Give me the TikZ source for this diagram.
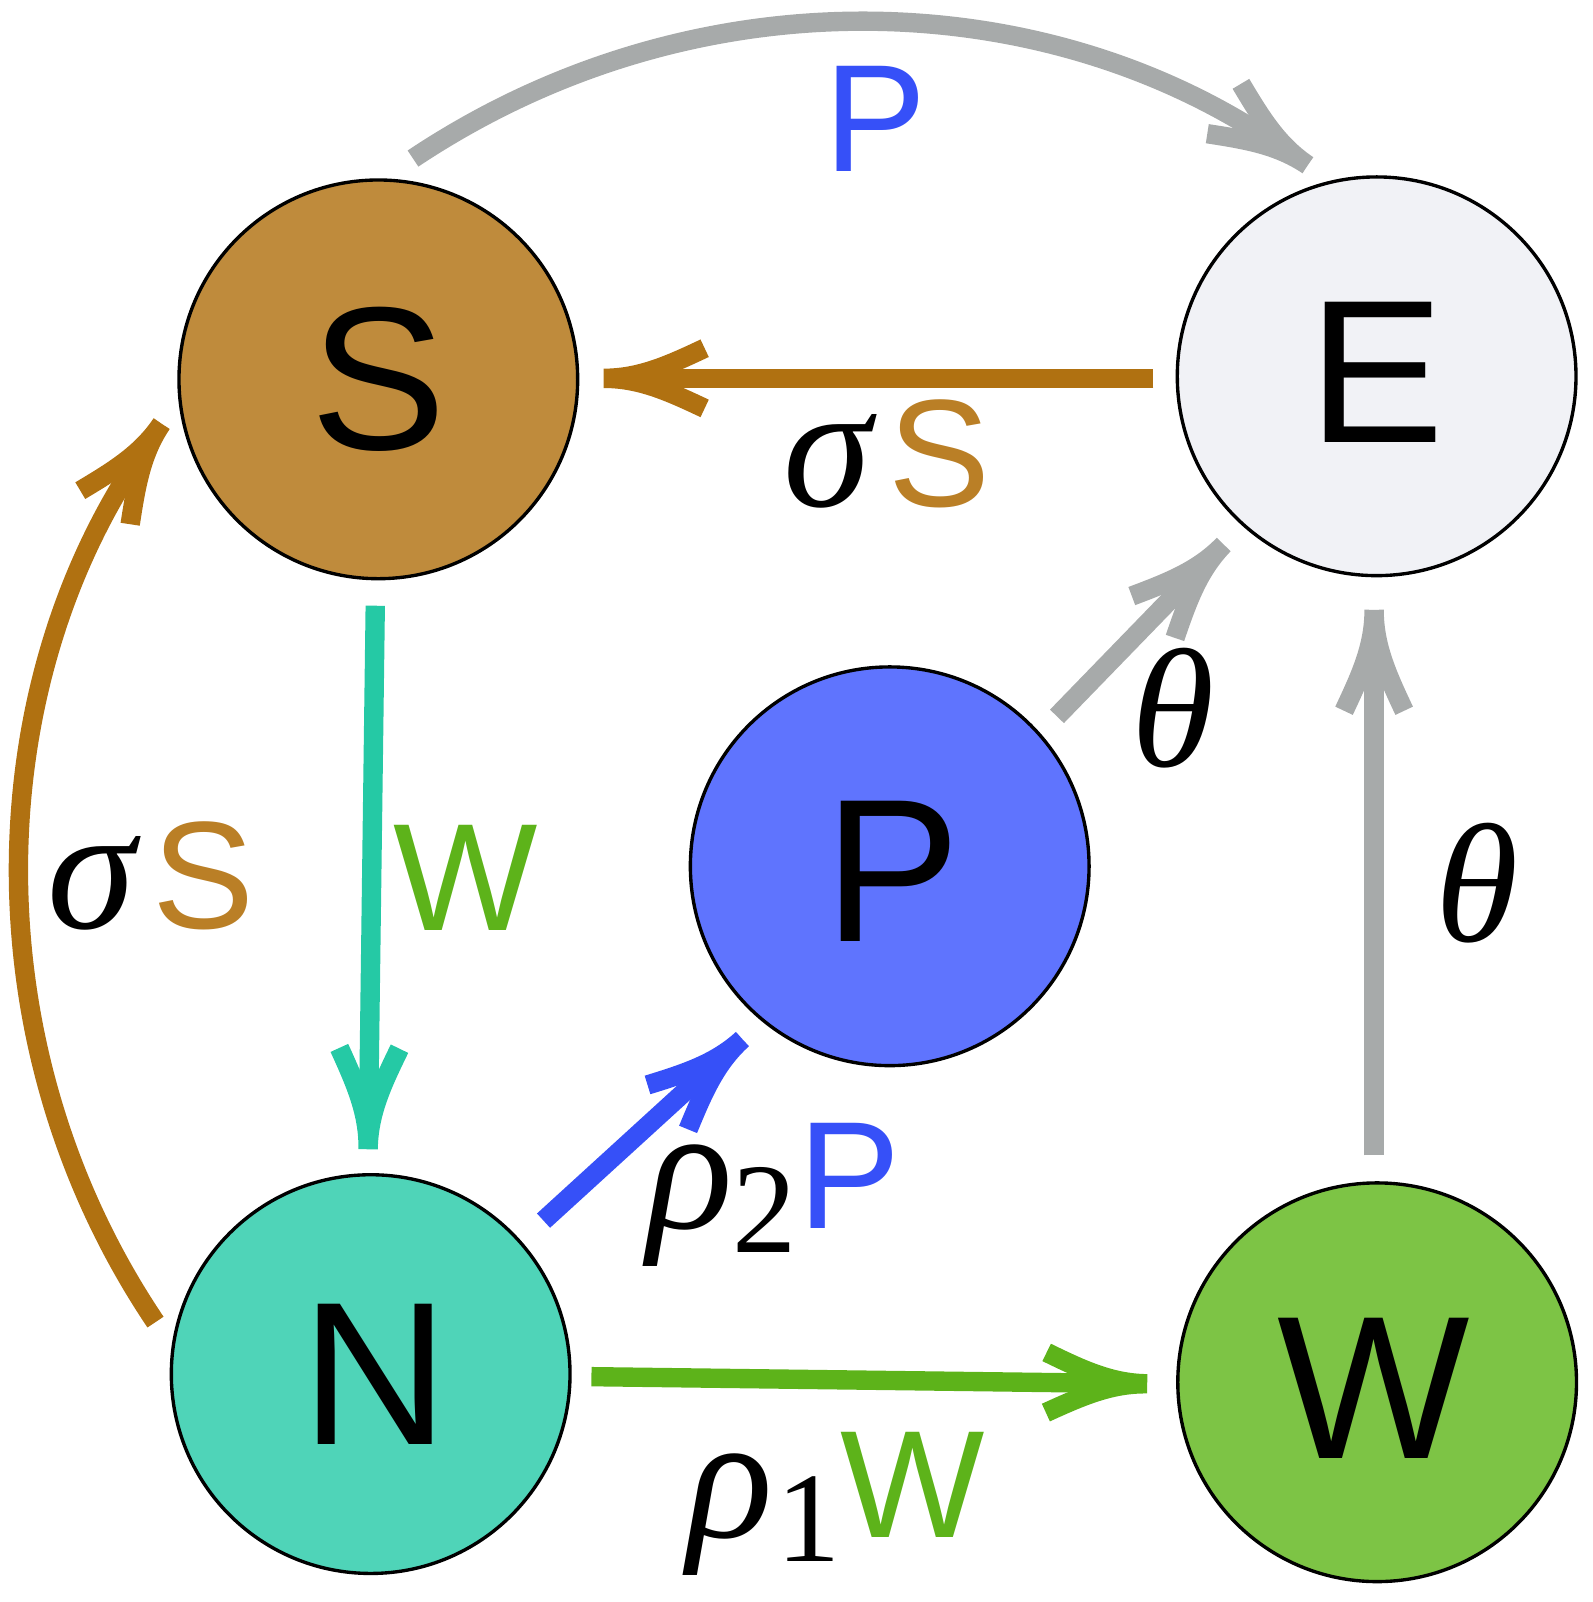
\documentclass[tikz,border=0pt]{standalone}
\usepackage{fontspec}
\setmainfont{Liberation Sans}
\newfontfamily\gkfont{Liberation Serif}
\usetikzlibrary{arrows.meta}
\definecolor{cS}{RGB}{191,139,60}
\definecolor{cE}{RGB}{241,242,246}
\definecolor{cP}{RGB}{95,116,254}
\definecolor{cN}{RGB}{79,212,184}
\definecolor{cW}{RGB}{125,196,69}
\definecolor{cBrown}{RGB}{176,113,17}
\definecolor{cBrownT}{RGB}{186,127,38}
\definecolor{cGray}{RGB}{167,170,170}
\definecolor{cTeal}{RGB}{37,201,165}
\definecolor{cGreen}{RGB}{93,179,26}
\definecolor{cBlue}{RGB}{54,80,248}
\newcommand\gk[1]{{\gkfont\itshape\fontsize{175}{175}\selectfont #1}}
\newcommand\gkth[1]{{\gkfont\itshape\fontsize{166}{166}\selectfont #1}}
\newcommand\sbs[1]{\raisebox{-23pt}{\gkfont\fontsize{126}{126}\selectfont #1}}
\newcommand\shifttxt[3]{\hspace*{#1}\raisebox{#2}[\height][0pt]{#3}}
\pgfdeclarearrow{
  name = Barb,
  setup code = {
    \pgfarrowssettipend{0pt}
    \pgfarrowssetbackend{-104pt}
    \pgfarrowssetlineend{-40pt}
    \pgfarrowsupperhullpoint{-104pt}{40pt}
    \pgfarrowsupperhullpoint{0pt}{10pt}
  },
  drawing code = {
    \pgfsetlinewidth{19pt}
    \pgfsetbuttcap
    \pgfpathmoveto{\pgfpointorigin}
    \pgfpathcurveto{\pgfqpoint{-35pt}{0pt}}{\pgfqpoint{-63pt}{12.5pt}}{\pgfqpoint{-99pt}{29.5pt}}
    \pgfpathmoveto{\pgfpointorigin}
    \pgfpathcurveto{\pgfqpoint{-35pt}{0pt}}{\pgfqpoint{-63pt}{-12.5pt}}{\pgfqpoint{-99pt}{-29.5pt}}
    \pgfusepathqstroke
  }
}
\begin{document}
\begin{tikzpicture}[x=1pt,y=-1pt,
  state/.style={circle, draw=black, line width=3.3pt, minimum size=391pt, inner sep=0pt,
    font=\fontsize{200}{200}\selectfont},
  flow/.style={line width=19pt, line cap=butt, -{Barb}},
  lbl/.style={anchor=base, inner sep=0pt, font=\fontsize{150}{150}\selectfont},
]
\useasboundingbox (0,0) rectangle (1562,1571);
\node[state, fill=cS] (S) at (371,372) {S};
\node[state, fill=cE] (E) at (1350,369) {\shifttxt{0pt}{4pt}{E}};
\node[state, fill=cP] (P) at (872.5,849.5) {\shifttxt{5pt}{-4.5pt}{P}};
\node[state, fill=cN] (N) at (363.5,1347.5) {\shifttxt{9pt}{0pt}{N}};
\node[state, fill=cW] (W) at (1350.5,1355.5) {\raisebox{-6pt}[\height][0pt]{W}\hspace*{7pt}};

\draw[flow, cGray] ([shift={(34,-216.5)}]S.center) .. controls (680,-28) and (1020,-15) .. ([shift={(-67.5,-207)}]E.center);
\draw[flow, cBrown] ([shift={(-219,2)}]E.center) -- ([shift={(221,-1)}]S.center);
\draw[flow, cTeal] ([shift={(-3,222)}]S.center) -- ([shift={(-2.5,-220.5)}]N.center);
\draw[flow, cGreen] ([shift={(216.5,2.5)}]N.center) -- ([shift={(-225.5,1.5)}]W.center);
\draw[flow, cBlue] ([shift={(169.5,-150.5)}]N.center) -- ([shift={(-144.5,169.5)}]P.center);
\draw[flow, cGray] ([shift={(164,-147)}]P.center) -- ([shift={(-150,165)}]E.center);
\draw[flow, cGray] ([shift={(-3,-222.5)}]W.center) -- ([shift={(-2.5,229)}]E.center);
\draw[flow, cBrown] ([shift={(-211,-51)}]N.center) .. controls (-27,1030) and (-21,682) .. ([shift={(-212.5,43.5)}]S.center);

\node[lbl, text=cBlue] (lP) at (858.5,168) {P};
\node[lbl] (lsS1) at (870,497) {\gk{σ}\kern17pt\textcolor{cBrownT}{S}};
\node[lbl] (lth1) at (1150,752) {\gkth{θ}};
\node[lbl] (lth2) at (1448,923) {\gkth{θ}};
\node[lbl] (lsS2) at (148,911) {\gk{σ}\kern16pt\textcolor{cBrownT}{S}};
\node[lbl, text=cGreen] (lW) at (457,912) {W};
\node[lbl] (lr2) at (759,1205) {\gk{ρ}\sbs{2}\kern2pt\textcolor{cBlue}{P}};
\node[lbl] (lr1) at (820,1508) {\gk{ρ}\kern4pt\sbs{1}\textcolor{cGreen}{W}};
\end{tikzpicture}
\end{document}
